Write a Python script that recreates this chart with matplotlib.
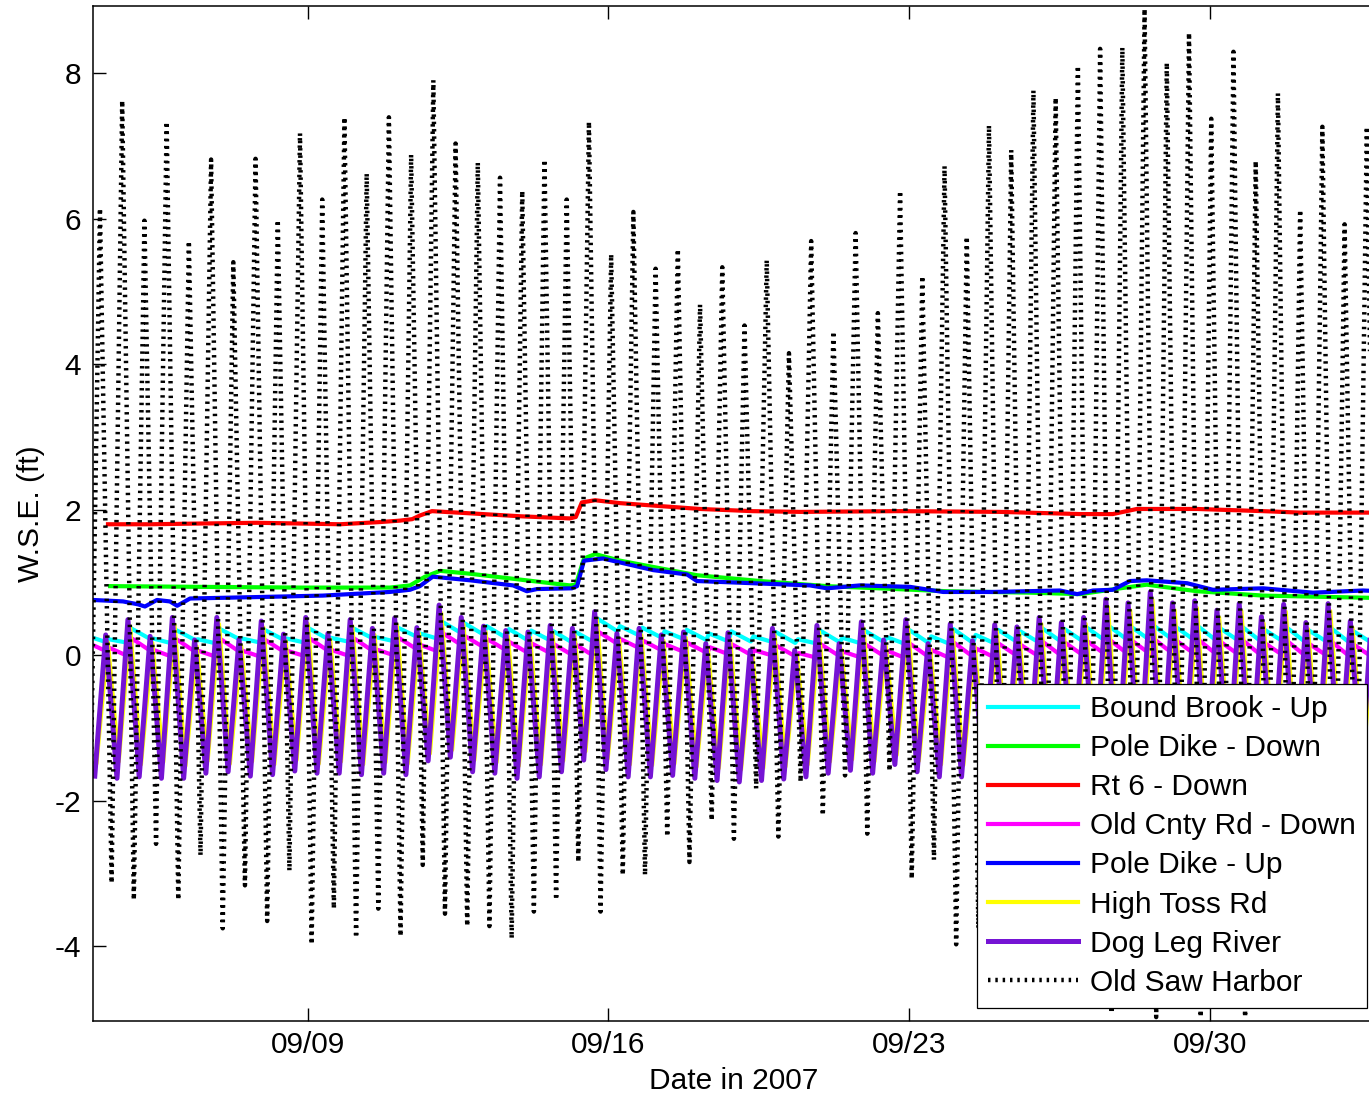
import numpy as np
import pandas as pd
import matplotlib
matplotlib.use('Agg')
import matplotlib.pyplot as plt
import matplotlib.dates as mdates

plt.rcParams['font.family'] = ['Liberation Sans', 'DejaVu Sans']
plt.rcParams['axes.unicode_minus'] = False

start = pd.Timestamp('2007-09-04')
# one entry per tidal cycle (M2 period, 12 h 25 min), time of high water at Old Saw Harbor
tide_times = pd.date_range('2007-09-04 03:55', periods=58, freq='745min')

# Old Saw Harbor, high / low water per cycle (ft)
osh_high = [6.14, 7.62, 5.97, 7.33, 5.69, 6.81, 5.40, 6.82, 5.98, 7.17,
            6.26, 7.39, 6.62, 7.39, 6.88, 7.90, 7.03, 6.77, 6.56, 6.38,
            6.81, 6.26, 7.33, 5.51, 6.09, 5.31, 5.58, 4.82, 5.33, 4.53,
            5.43, 4.15, 5.69, 4.45, 5.80, 4.70, 6.38, 5.21, 6.72, 5.75,
            7.28, 6.94, 7.76, 7.66, 8.10, 8.33, 8.35, 8.88, 8.14, 8.55,
            7.37, 8.29, 6.79, 7.72, 6.12, 7.26, 5.92, 7.26]
osh_low = [-3.13, -3.36, -2.59, -3.36, -2.75, -3.75, -3.16, -3.65, -2.96, -3.97,
           -3.48, -3.88, -3.48, -3.86, -2.88, -3.55, -3.72, -3.72, -3.89, -3.52,
           -3.36, -2.84, -3.52, -3.02, -3.02, -2.49, -2.84, -2.27, -2.52, -1.83,
           -2.49, -1.74, -2.20, -1.65, -2.45, -1.59, -3.07, -2.81, -3.97, -3.75,
           -4.20, -3.90, -4.50, -4.10, -4.70, -4.92, -4.40, -4.97, -4.50, -4.97,
           -4.30, -4.97, -4.00, -4.60, -3.70, -4.30, -3.50, -4.00]

# Dog Leg River
dlr_high = [0.28, 0.49, 0.26, 0.52, 0.21, 0.52, 0.22, 0.47, 0.29, 0.52,
            0.30, 0.49, 0.37, 0.51, 0.38, 0.69, 0.52, 0.40, 0.34, 0.32,
            0.41, 0.37, 0.60, 0.30, 0.37, 0.28, 0.32, 0.16, 0.31, 0.07,
            0.37, 0.07, 0.41, 0.16, 0.46, 0.21, 0.49, 0.16, 0.43, 0.20,
            0.42, 0.39, 0.52, 0.45, 0.52, 0.77, 0.72, 0.87, 0.72, 0.75,
            0.62, 0.71, 0.53, 0.70, 0.45, 0.71, 0.47, 0.76]
dlr_low = [-1.69, -1.67, -1.69, -1.69, -1.62, -1.60, -1.66, -1.64, -1.59, -1.62,
           -1.62, -1.64, -1.62, -1.64, -1.45, -1.40, -1.60, -1.62, -1.69, -1.67,
           -1.60, -1.44, -1.57, -1.67, -1.67, -1.65, -1.69, -1.72, -1.74, -1.72,
           -1.70, -1.67, -1.62, -1.58, -1.62, -1.50, -1.60, -1.67, -1.67, -1.68,
           -1.66, -1.65, -1.66, -1.64, -1.66, -1.67, -1.65, -1.68, -1.66, -1.67,
           -1.65, -1.66, -1.64, -1.65, -1.63, -1.64, -1.62, -1.63]

# High Toss Rd
hts_high = [0.18, 0.40, 0.17, 0.42, 0.12, 0.43, 0.13, 0.38, 0.20, 0.43,
            0.22, 0.40, 0.28, 0.42, 0.30, 0.58, 0.43, 0.32, 0.26, 0.24,
            0.32, 0.28, 0.50, 0.22, 0.28, 0.20, 0.24, 0.08, 0.22, 0.00,
            0.28, 0.00, 0.32, 0.08, 0.37, 0.13, 0.40, 0.08, 0.34, 0.12,
            0.33, 0.30, 0.43, 0.36, 0.43, 0.66, 0.62, 0.76, 0.62, 0.65,
            0.52, 0.61, 0.44, 0.60, 0.36, 0.61, 0.38, 0.66]
hts_low = [-1.46, -1.50, -1.47, -1.52, -1.45, -1.49, -1.46, -1.50, -1.44, -1.49,
           -1.46, -1.50, -1.47, -1.49, -1.35, -1.30, -1.44, -1.47, -1.52, -1.50,
           -1.45, -1.32, -1.42, -1.50, -1.51, -1.49, -1.53, -1.55, -1.57, -1.55,
           -1.53, -1.50, -1.46, -1.43, -1.46, -1.37, -1.45, -1.50, -1.51, -1.52,
           -1.50, -1.49, -1.50, -1.48, -1.50, -1.51, -1.49, -1.52, -1.50, -1.51,
           -1.49, -1.50, -1.48, -1.49, -1.47, -1.48, -1.46, -1.47]

# Bound Brook - Up: level before and after each flood pulse
bb_trough = [0.18, 0.17, 0.22, 0.16, 0.21, 0.16, 0.22, 0.17, 0.21, 0.17,
             0.22, 0.18, 0.23, 0.19, 0.25, 0.22, 0.30, 0.28, 0.24, 0.20,
             0.20, 0.17, 0.17, 0.33, 0.27, 0.24, 0.22, 0.21, 0.19, 0.19,
             0.18, 0.17, 0.16, 0.18, 0.16, 0.18, 0.15, 0.17, 0.15, 0.17,
             0.16, 0.18, 0.17, 0.18, 0.18, 0.19, 0.20, 0.20, 0.21, 0.20,
             0.19, 0.19, 0.18, 0.18, 0.17, 0.17, 0.16, 0.16]
bb_peak = [0.22, 0.37, 0.23, 0.35, 0.22, 0.36, 0.23, 0.35, 0.23, 0.37,
           0.24, 0.37, 0.25, 0.38, 0.30, 0.46, 0.44, 0.40, 0.36, 0.34,
           0.33, 0.32, 0.50, 0.40, 0.38, 0.33, 0.35, 0.30, 0.33, 0.26,
           0.32, 0.22, 0.34, 0.24, 0.34, 0.25, 0.35, 0.26, 0.36, 0.28,
           0.35, 0.33, 0.37, 0.36, 0.38, 0.40, 0.39, 0.41, 0.39, 0.40,
           0.37, 0.39, 0.35, 0.38, 0.34, 0.37, 0.33, 0.36]

# Old Cnty Rd - Down
ocr_trough = [0.05, -0.02, 0.05, -0.03, 0.04, -0.03, 0.04, -0.03, 0.04, -0.02,
              0.05, -0.02, 0.05, -0.01, 0.07, 0.04, 0.13, 0.10, 0.06, 0.02,
              0.02, -0.01, -0.03, 0.15, 0.09, 0.06, 0.04, 0.03, 0.01, 0.00,
              -0.01, -0.02, -0.04, -0.02, -0.04, -0.02, -0.05, -0.03, -0.05, -0.03,
              -0.04, -0.02, -0.03, -0.02, -0.02, -0.01, 0.00, 0.00, 0.01, 0.00,
              -0.01, -0.01, -0.02, -0.02, -0.03, -0.03, -0.04, -0.04]
ocr_peak = [0.10, 0.23, 0.07, 0.22, 0.06, 0.22, 0.06, 0.21, 0.06, 0.23,
            0.07, 0.23, 0.08, 0.24, 0.14, 0.30, 0.26, 0.22, 0.18, 0.16,
            0.15, 0.14, 0.32, 0.22, 0.20, 0.15, 0.17, 0.11, 0.15, 0.07,
            0.13, 0.03, 0.15, 0.05, 0.15, 0.06, 0.16, 0.07, 0.17, 0.09,
            0.16, 0.14, 0.18, 0.17, 0.19, 0.21, 0.20, 0.22, 0.20, 0.21,
            0.18, 0.20, 0.16, 0.19, 0.15, 0.18, 0.14, 0.17]

# slowly varying gauges: days after 09/04 00:00, W.S.E. (ft)
rt6_days = [0.35, 1.33, 2.49, 3.82, 4.82, 5.75, 6.68, 7.15, 7.43, 7.61, 7.89,
            8.78, 9.94, 11.10, 11.24, 11.38, 11.69, 12.27, 13.43, 14.13, 15.36,
            16.46, 18.79, 21.11, 22.98, 23.74, 24.30, 25.70, 27.24, 28.10, 30.0]
rt6_wse = [1.80, 1.80, 1.81, 1.82, 1.81, 1.80, 1.83, 1.85, 1.87, 1.92, 1.98,
           1.95, 1.91, 1.88, 1.90, 2.10, 2.13, 2.09, 2.04, 2.01, 1.98,
           1.97, 1.98, 1.97, 1.94, 1.94, 2.01, 2.01, 1.98, 1.96, 1.96]

pdd_days = [0.40, 2.49, 4.82, 6.91, 7.38, 7.73, 8.08, 8.78, 9.94, 11.10, 11.24,
            11.43, 11.69, 12.27, 13.43, 14.06, 15.53, 17.09, 19.88, 21.81, 22.98,
            23.91, 24.53, 25.70, 27.24, 29.70, 30.0]
pdd_wse = [0.95, 0.94, 0.93, 0.93, 0.96, 1.08, 1.16, 1.12, 1.04, 0.96, 0.97,
           1.33, 1.39, 1.30, 1.17, 1.10, 1.02, 0.95, 0.88, 0.86, 0.84,
           0.92, 0.97, 0.88, 0.82, 0.79, 0.79]

pdu_days = [0.0, 0.70, 1.05, 1.21, 1.49, 1.79, 1.96, 2.26, 3.82, 5.35, 6.91,
            7.38, 7.61, 7.91, 8.78, 9.78, 10.10, 10.34, 11.15, 11.27, 11.43,
            11.87, 13.04, 13.83, 14.06, 15.36, 16.69, 17.09, 17.85, 19.02, 19.79,
            20.95, 22.51, 22.91, 23.28, 23.74, 24.14, 24.53, 25.47, 26.07, 27.24,
            28.40, 29.56, 30.0]
pdu_wse = [0.76, 0.74, 0.70, 0.67, 0.76, 0.74, 0.68, 0.78, 0.80, 0.82, 0.87,
           0.90, 0.95, 1.08, 1.03, 0.96, 0.88, 0.91, 0.92, 0.95, 1.30,
           1.33, 1.17, 1.11, 1.02, 0.99, 0.96, 0.92, 0.96, 0.94, 0.87,
           0.87, 0.89, 0.84, 0.89, 0.90, 1.02, 1.03, 0.99, 0.90, 0.92,
           0.86, 0.89, 0.88]


def zigzag(lead_lag, lead, readings):
    # readings: (lag in hours after high water, values per cycle), in time order
    t = [tide_times[0] + pd.Timedelta(hours=lead_lag)]
    v = [lead]
    for k, tk in enumerate(tide_times):
        for lag, vals in readings:
            t.append(tk + pd.Timedelta(hours=lag))
            v.append(vals[k])
    return t, v


def from_days(days):
    return start + pd.to_timedelta(days, unit='D')


fig = plt.figure(figsize=(13.69, 10.98), dpi=100)
ax = fig.add_axes([0.0679, 0.0697, 0.9414, 0.9249])

lw = 3
t, v = zigzag(-3.9, 0.24, [(3.5, bb_trough), (5.0, bb_peak)])
ax.plot(t, v, color='#00FFFF', lw=lw, label='Bound Brook - Up')
ax.plot(from_days(pdd_days), pdd_wse, color='#00FF00', lw=lw, label='Pole Dike - Down')
ax.plot(from_days(rt6_days), rt6_wse, color='#FF0000', lw=lw, label='Rt 6 - Down')
t, v = zigzag(-3.9, 0.14, [(4.0, ocr_trough), (5.5, ocr_peak)])
ax.plot(t, v, color='#FF00FF', lw=lw, label='Old Cnty Rd - Down')
ax.plot(from_days(pdu_days), pdu_wse, color='#0000FF', lw=lw, label='Pole Dike - Up')
t, v = zigzag(-1.9, -1.47, [(4.4, hts_high), (10.5, hts_low)])
ax.plot(t, v, color='#FFFF00', lw=lw, label='High Toss Rd')
t, v = zigzag(-2.9, -1.66, [(3.2, dlr_high), (9.5, dlr_low)])
ax.plot(t, v, color='#7514D4', lw=3.6, label='Dog Leg River')
t, v = zigzag(-5.9, -2.9, [(0.0, osh_high), (6.5, osh_low)])
ax.plot(t, v, color='black', lw=3.2, linestyle=(0, (0.55, 1.1)), label='Old Saw Harbor')

ax.set_xlim(pd.Timestamp('2007-09-04'), pd.Timestamp('2007-10-04'))
ax.set_ylim(-5.03, 8.92)
ax.set_yticks([-4, -2, 0, 2, 4, 6, 8])
ax.set_xticks(pd.to_datetime(['2007-09-09', '2007-09-16', '2007-09-23', '2007-09-30']))
ax.xaxis.set_major_formatter(mdates.DateFormatter('%m/%d'))

ax.tick_params(direction='in', length=9.4, width=1.0, top=True, right=True,
               labelsize=21.5)
ax.tick_params(axis='x', pad=7)
ax.tick_params(axis='y', pad=8.5)
for s in ax.spines.values():
    s.set_linewidth(1.1)

ax.set_xlabel('Date in 2007', fontsize=21.5)
ax.set_ylabel('W.S.E. (ft)', fontsize=21.5)
ax.xaxis.set_label_coords(0.497, -0.045)
ax.yaxis.set_label_coords(-0.037, 0.5)

leg = ax.legend(loc='lower right', bbox_to_anchor=(0.9985, 0.082),
                bbox_transform=fig.transFigure, borderaxespad=0,
                fontsize=21.5, handlelength=3.0, handletextpad=0.4,
                labelspacing=0.37, borderpad=0.38, fancybox=False,
                framealpha=1, edgecolor='black')
leg.get_frame().set_linewidth(0.9)

fig.savefig('out.png', dpi=100)
